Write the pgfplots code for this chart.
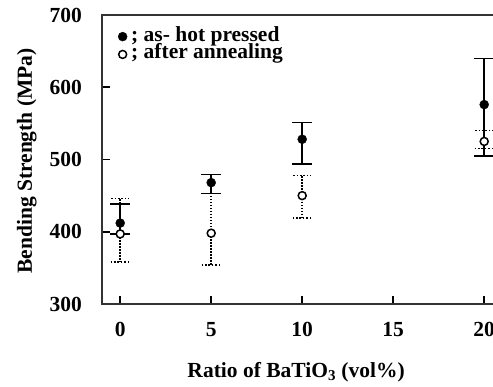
\documentclass[border=0pt]{standalone}
\usepackage{fontspec}
\setmainfont{Liberation Serif}
\usepackage{pgfplots}
\pgfplotsset{compat=1.18}
\begin{document}
\begin{tikzpicture}
\begin{axis}[
  name=ax, at={(0,0)}, anchor=south west,
  scale only axis, width=409.5bp, height=289bp,
  xmin=-1, xmax=21.5, ymin=300, ymax=700,
  xtick={0,5,10,15,20}, ytick={300,400,500,600,700},
  tick align=inside, xtick pos=left, ytick pos=left,
  major tick length=8bp,
  axis line style={line width=1.6bp, black!80},
  every tick/.style={line width=1.6bp, black},
  tick label style={font=\fontsize{21.5bp}{24bp}\selectfont\bfseries, inner sep=0pt},
  /pgf/number format/assume math mode=true,
  xticklabel shift=18bp, yticklabel shift=20bp,
  xlabel={Ratio of BaTiO\textsubscript{3} (vol\%)},
  ylabel={Bending Strength (MPa)},
  label style={font=\fontsize{21.5bp}{24bp}\selectfont\bfseries, inner sep=0pt},
  xlabel style={at={(axis description cs:0.474,-0.2526)}, anchor=base},
  ylabel style={at={(axis description cs:-0.171,0.495)}, anchor=base, rotate=0},
  legend style={draw=none, fill=none, at={(axis description cs:0.039,0.957)}, anchor=north west,
    inner sep=0pt, row sep=0bp, column sep=4bp,
    font=\fontsize{21.5bp}{24bp}\selectfont\bfseries,
    nodes={inner sep=0pt, text height=13.5bp, text depth=4.3bp},
    cells={anchor=base west}},
  legend image code/.code={\draw[#1] plot coordinates {(0bp,4.5bp)};},
]
\addplot[only marks, black, mark=*, mark size=4.5bp, mark options={fill=black, solid},
  error bars/.cd, y dir=both, y explicit,
  error bar style={line width=1.6bp, black, solid},
  error mark options={rotate=90, mark size=10bp, line width=1.6bp, black, solid}]
coordinates {
  (0,412)  +=(0,26) -=(0,15)
  (5,468)  +=(0,11) -=(0,15)
  (10,528) +=(0,23) -=(0,34)
  (20,576) +=(0,64) -=(0,71)
};
\addlegendentry{; as- hot pressed}
\addplot[only marks, black, mark=*, mark size=4bp, mark options={fill=white, draw=black, line width=1.5bp, solid},
  error bars/.cd, y dir=both, y explicit,
  error bar style={line width=1.6bp, black, dash pattern=on 1.6bp off 1.4bp},
  error mark options={rotate=90, mark size=9bp, line width=1.6bp, black, dash pattern=on 1.6bp off 1.8bp}]
coordinates {
  (0,397)  +=(0,49) -=(0,39)
  (5,398)  +=(0,55) -=(0,44)
  (10,450) +=(0,28) -=(0,31)
  (20,525) +=(0,15) -=(0,10)
};
\addlegendentry{; after annealing}
\end{axis}
\pgfresetboundingbox
\path[use as bounding box] (ax.south west) ++(-102bp,-83bp) rectangle ++(493bp,387bp);
\end{tikzpicture}
\end{document}
